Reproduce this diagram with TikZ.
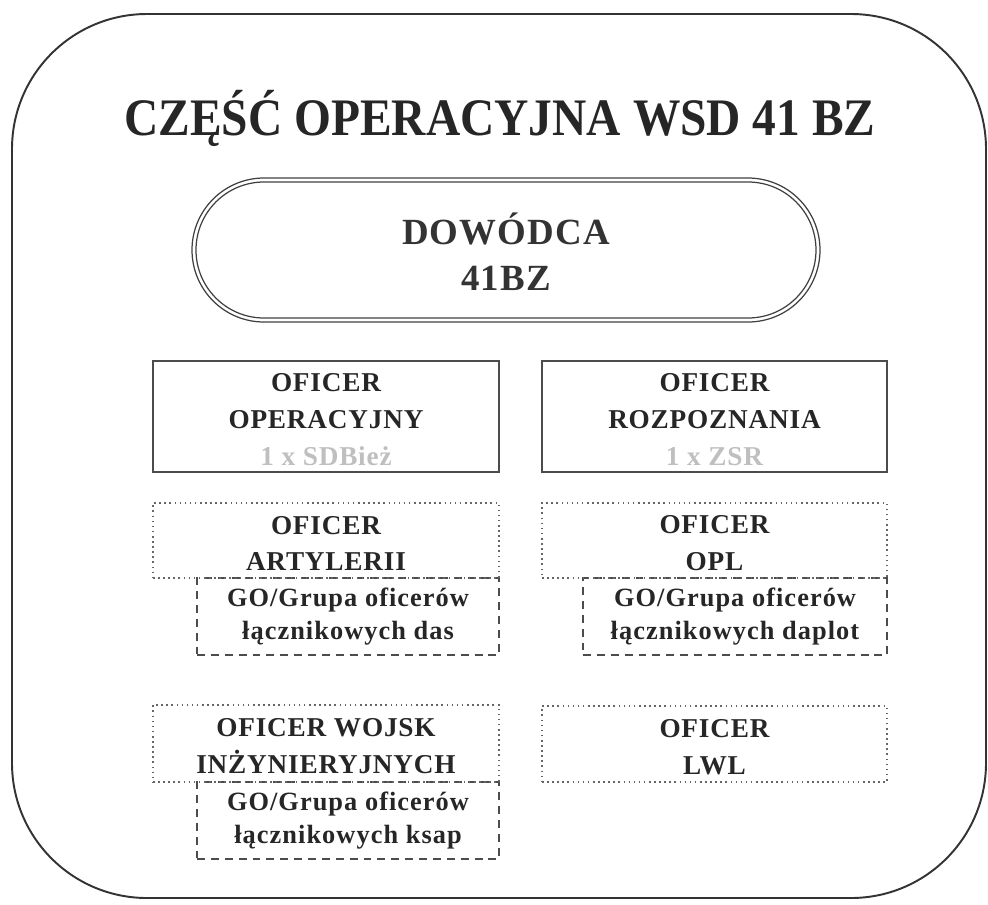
\documentclass[tikz,border=0pt]{standalone}
\usepackage{fontspec}
\setmainfont{Liberation Serif}
\newfontfamily\spaced[LetterSpace=4]{Liberation Serif}
\newfontfamily\spacedb[LetterSpace=3]{Liberation Serif}
\newcommand{\pxl}{0.02cm}
\tikzset{
  frame/.style={draw=black!80, line width=1.1pt, rounded corners=2.7cm},
  txt/.style={font=\spacedb\bfseries\fontsize{15.5}{21}\selectfont, align=center, text=black!85},
  gotxt/.style={font=\spaced\bfseries\fontsize{15}{18.7}\selectfont, align=center, text=black!85},
  solidbox/.style={draw=black!70, line width=0.8pt, inner sep=0pt},
  dotbox/.style={draw=black!60, line width=0.9pt, dotted, inner sep=0pt},
  dashbox/.style={draw=black!70, line width=0.9pt, dash pattern=on 4.5pt off 3.4pt, inner sep=0pt},
}
\begin{document}
\begin{tikzpicture}[x=0.02cm, y=-0.02cm]
\useasboundingbox (0,0) rectangle (988,904);
% outer frame
\draw[frame] (12,14) rectangle (986,898);
% title
\node[font=\bfseries\fontsize{30}{34}\selectfont, text=black!85, xscale=0.9] (title) at (500,118) {CZĘŚĆ OPERACYJNA WSD 41 BZ};
% commander stadium
\draw[draw=black!75, line width=0.7pt, rounded corners=72*\pxl] (192,178) rectangle (820,322);
\draw[draw=black!75, line width=0.7pt, rounded corners=68*\pxl] (196,182) rectangle (816,318);
\node[font=\spacedb\bfseries\fontsize{21}{26}\selectfont, align=center, text=black!80] (dow) at (506,252) {DOWÓDCA\\41BZ};
% row 1
\node[solidbox, minimum width=346*\pxl, minimum height=111*\pxl] (op) at (326,416.5) {};
\node[txt] (optxt) at ([yshift=-3*\pxl]op.center) {OFICER\\OPERACYJNY\\\textcolor{black!25}{1 x SDBież}};
\node[solidbox, minimum width=345*\pxl, minimum height=111*\pxl] (rz) at (714.5,416.5) {};
\node[txt] (rztxt) at ([yshift=-3*\pxl]rz.center) {OFICER\\ROZPOZNANIA\\\textcolor{black!25}{1 x ZSR}};
% row 2
\node[dashbox, minimum width=302*\pxl, minimum height=77*\pxl] (go1) at (348,616.5) {};
\node[gotxt] (go1txt) at (go1.center) {GO/Grupa oficerów\\łącznikowych das};
\node[dotbox, minimum width=346*\pxl, minimum height=75*\pxl] (art) at (326,540.5) {};
\node[txt] (arttxt) at ([yshift=-3*\pxl]art.center) {OFICER\\ARTYLERII};
\node[dashbox, minimum width=304*\pxl, minimum height=77*\pxl] (go2) at (735,616.5) {};
\node[gotxt] (go2txt) at (go2.center) {GO/Grupa oficerów\\łącznikowych daplot};
\node[dotbox, minimum width=345*\pxl, minimum height=75*\pxl] (opl) at (714.5,540.5) {};
\node[txt] (opltxt) at ([yshift=-3*\pxl]opl.center) {OFICER\\OPL};
% row 3
\node[dashbox, minimum width=302*\pxl, minimum height=77*\pxl] (go3) at (348,820.5) {};
\node[gotxt] (go3txt) at (go3.center) {GO/Grupa oficerów\\łącznikowych ksap};
\node[dotbox, minimum width=346*\pxl, minimum height=77*\pxl] (inz) at (326,743.5) {};
\node[txt] (inztxt) at ([yshift=-3*\pxl]inz.center) {OFICER WOJSK\\INŻYNIERYJNYCH};
\node[dotbox, minimum width=345*\pxl, minimum height=76*\pxl] (lwl) at (714.5,744) {};
\node[txt] (lwltxt) at ([yshift=-3*\pxl]lwl.center) {OFICER\\LWL};
\end{tikzpicture}
\end{document}
